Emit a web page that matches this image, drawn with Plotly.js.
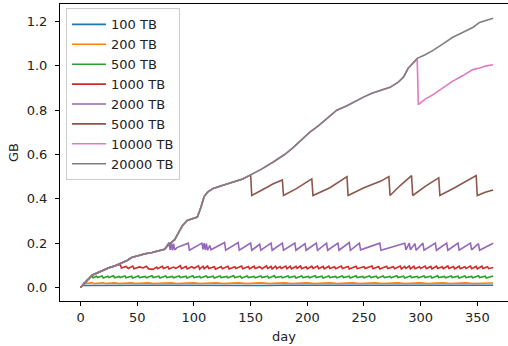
<!DOCTYPE html>
<html>
<head>
<meta charset="utf-8">
<script src="https://cdn.plot.ly/plotly-3.0.1.min.js"></script>
<style>html,body{margin:0;padding:0;background:#fff;}#chart{width:508px;height:346px;}</style>
</head>
<body>
<div id="chart"></div>
<script>
// ---- data ----
const seriesNames = ["100 TB","200 TB","500 TB","1000 TB","2000 TB","5000 TB","10000 TB","20000 TB"];
const seriesColors = ["#1f77b4","#ff7f0e","#2ca02c","#d62728","#9467bd","#8c564b","#e377c2","#7f7f7f"];

const xTicks = [0,50,100,150,200,250,300,350];
const yTicks = [0.0,0.2,0.4,0.6,0.8,1.0,1.2];

// 100 TB
const days100 = [0,2,3,20,40,60,80,100,120,140,160,180,200,220,240,260,280,300,320,340,364];
const gb100   = [0,0.010,0.009,0.010,0.009,0.010,0.010,0.009,0.010,0.010,0.009,0.010,0.010,0.009,0.010,0.010,0.009,0.010,0.010,0.009,0.010];

// 200 TB
const days200 = [0,3,4,10,12,20,22,30,34,45,48,60,64,80,84,100,105,120,125,140,146,160,166,180,186,200,206,220,226,240,246,260,266,280,286,300,306,320,326,340,346,364];
const gb200   = [0,0.021,0.018,0.021,0.018,0.021,0.018,0.021,0.018,0.021,0.018,0.021,0.018,0.021,0.018,0.021,0.018,0.021,0.018,0.021,0.018,0.021,0.018,0.021,0.018,0.021,0.018,0.021,0.018,0.021,0.018,0.021,0.018,0.021,0.018,0.021,0.018,0.021,0.018,0.021,0.018,0.020];

// 500 TB
const days500 = [0,5,10,11,14,15,19,20,24,25,29,30,34,35,39,40,45,46,51,52,57,58,63,64,69,70,75,76,81,82,87,88,93,94,99,100,105,106,111,112,117,118,123,124,129,130,135,136,141,142,147,148,153,154,159,160,165,166,171,172,177,178,183,184,189,190,195,196,201,202,207,208,213,214,219,220,225,226,231,232,237,238,243,244,249,250,255,256,261,262,267,268,273,274,279,280,285,286,291,292,297,298,303,304,309,310,315,316,321,322,327,328,333,334,339,340,345,346,351,352,357,358,364];
const gb500   = [0,0.030,0.052,0.044,0.051,0.045,0.052,0.043,0.051,0.045,0.053,0.044,0.050,0.045,0.052,0.044,0.051,0.043,0.052,0.045,0.050,0.044,0.053,0.045,0.051,0.043,0.052,0.045,0.050,0.044,0.052,0.045,0.051,0.043,0.053,0.045,0.050,0.044,0.052,0.045,0.051,0.043,0.052,0.045,0.050,0.044,0.053,0.045,0.051,0.043,0.052,0.045,0.050,0.044,0.052,0.045,0.051,0.043,0.053,0.045,0.050,0.044,0.052,0.045,0.051,0.043,0.052,0.045,0.050,0.044,0.053,0.045,0.051,0.043,0.052,0.045,0.050,0.044,0.052,0.045,0.051,0.043,0.053,0.045,0.050,0.044,0.052,0.045,0.051,0.043,0.052,0.045,0.050,0.044,0.053,0.045,0.051,0.043,0.052,0.045,0.050,0.044,0.052,0.045,0.051,0.043,0.053,0.045,0.050,0.044,0.052,0.045,0.051,0.043,0.052,0.045,0.050,0.044,0.053,0.045,0.051,0.043,0.052];

// 1000 TB
const days1000 = [0,5,10,13,20,25,30,35,36,40,42,46,47,52,55,58,60,64,67,68,72,73,77,78,82,84,88,89,93,94,98,100,104,105,108,109,112,113,118,119,124,125,130,131,136,137,142,143,148,149,153,154,158,160,164,165,168,169,172,173,176,177,181,182,185,186,190,191,194,195,199,200,204,205,209,210,214,215,219,220,224,225,230,231,236,237,243,244,250,251,257,258,263,264,270,271,276,277,282,283,286,287,290,291,294,295,299,300,304,305,309,310,314,315,319,320,324,325,329,330,334,335,339,340,344,345,349,350,354,355,359,360,364];
const gb1000   = [0,0.030,0.055,0.062,0.078,0.089,0.097,0.104,0.088,0.095,0.086,0.097,0.085,0.093,0.088,0.096,0.084,0.082,0.092,0.085,0.096,0.086,0.094,0.084,0.092,0.086,0.098,0.085,0.095,0.084,0.094,0.087,0.098,0.083,0.096,0.085,0.097,0.086,0.094,0.083,0.095,0.085,0.096,0.084,0.094,0.086,0.097,0.085,0.095,0.084,0.096,0.086,0.094,0.085,0.097,0.086,0.095,0.084,0.096,0.085,0.094,0.086,0.097,0.085,0.096,0.084,0.095,0.086,0.097,0.085,0.094,0.084,0.096,0.086,0.097,0.085,0.095,0.084,0.096,0.086,0.094,0.085,0.097,0.086,0.095,0.084,0.096,0.085,0.094,0.086,0.097,0.085,0.095,0.084,0.096,0.086,0.094,0.085,0.097,0.084,0.095,0.086,0.097,0.084,0.096,0.085,0.094,0.086,0.097,0.085,0.095,0.084,0.096,0.086,0.094,0.085,0.097,0.086,0.095,0.084,0.096,0.085,0.094,0.086,0.097,0.085,0.095,0.084,0.096,0.086,0.094,0.085,0.090];

// 2000 TB
const days2000 = [0,5,10,13,20,25,30,37,41,45,51,57,63,68,74,78,79,80,81,82,83,85,95,96,107,108,109,110,111,112,114,115,127,128,139,140,150,151,158,159,168,169,178,179,189,190,198,199,208,209,217,218,227,228,237,238,246,247,264,265,286,287,290,291,295,296,302,303,313,314,323,324,333,334,344,345,351,352,360,364];
const gb2000   = [0,0.030,0.055,0.062,0.078,0.089,0.097,0.111,0.122,0.135,0.145,0.152,0.158,0.165,0.172,0.203,0.170,0.200,0.168,0.198,0.170,0.180,0.200,0.168,0.200,0.172,0.200,0.170,0.198,0.168,0.190,0.170,0.203,0.168,0.203,0.168,0.200,0.168,0.195,0.168,0.200,0.168,0.200,0.168,0.200,0.168,0.198,0.168,0.200,0.168,0.200,0.168,0.200,0.168,0.203,0.168,0.200,0.170,0.200,0.168,0.200,0.170,0.200,0.170,0.198,0.168,0.200,0.168,0.200,0.168,0.200,0.168,0.200,0.168,0.200,0.170,0.198,0.168,0.190,0.200];

// 5000 TB
const days5000 = [0,5,10,13,20,25,30,37,41,45,51,57,63,68,74,78,83,88,90,94,98,103,106,109,112,117,125,135,143,150,151,160,170,178,179,190,204,205,220,235,236,250,265,272,273,282,292,293,305,316,317,330,349,350,357,364];
const gb5000   = [0,0.030,0.055,0.062,0.078,0.089,0.097,0.111,0.122,0.135,0.145,0.152,0.158,0.165,0.172,0.195,0.216,0.262,0.280,0.302,0.310,0.318,0.360,0.410,0.430,0.447,0.460,0.476,0.490,0.508,0.415,0.440,0.468,0.485,0.415,0.445,0.490,0.415,0.450,0.500,0.415,0.450,0.480,0.500,0.415,0.460,0.505,0.415,0.460,0.495,0.415,0.450,0.505,0.415,0.430,0.440];

// 10000 TB
const days10000 = [0,5,10,13,20,25,30,37,41,45,51,57,63,68,74,78,83,88,90,94,98,103,106,109,112,117,125,135,143,150,160,170,180,187,195,202,210,218,226,235,244,250,257,265,273,280,285,289,293,297,298,304,311,320,328,337,346,352,358,364];
const gb10000   = [0,0.030,0.055,0.062,0.078,0.089,0.097,0.111,0.122,0.135,0.145,0.152,0.158,0.165,0.172,0.195,0.216,0.262,0.280,0.302,0.310,0.318,0.360,0.410,0.430,0.447,0.460,0.476,0.490,0.508,0.535,0.566,0.600,0.629,0.665,0.700,0.730,0.765,0.800,0.820,0.845,0.860,0.876,0.890,0.903,0.925,0.950,0.989,1.010,1.030,0.825,0.850,0.870,0.900,0.930,0.955,0.983,0.990,1.000,1.005];

// 20000 TB
const days20000 = [0,5,10,13,20,25,30,37,41,45,51,57,63,68,74,78,83,88,90,94,98,103,106,109,112,117,125,135,143,150,160,170,180,187,195,202,210,218,226,235,244,250,257,265,273,280,285,289,293,297,304,311,320,328,337,346,352,358,364];
const gb20000   = [0,0.030,0.055,0.062,0.078,0.089,0.097,0.111,0.122,0.135,0.145,0.152,0.158,0.165,0.172,0.195,0.216,0.262,0.280,0.302,0.310,0.318,0.360,0.410,0.430,0.447,0.460,0.476,0.490,0.508,0.535,0.566,0.600,0.629,0.665,0.700,0.730,0.765,0.800,0.820,0.845,0.860,0.876,0.890,0.903,0.925,0.950,0.989,1.010,1.034,1.050,1.070,1.100,1.128,1.150,1.173,1.196,1.207,1.215];

const allDays = [days100,days200,days500,days1000,days2000,days5000,days10000,days20000];
const allGB   = [gb100,gb200,gb500,gb1000,gb2000,gb5000,gb10000,gb20000];

// ---- build traces ----
const traces = seriesNames.map((name,i)=>({
  type:'scatter', mode:'lines', name:name,
  x: allDays[i], y: allGB[i],
  line:{color:seriesColors[i], width:1.6}
}));

const font = {family:'"DejaVu Sans", sans-serif', size:13, color:'#222'};

const layout = {
  width:508, height:346,
  margin:{l:60, r:0, t:4, b:45, pad:0},
  paper_bgcolor:'#fff', plot_bgcolor:'#fff',
  font: font,
  showlegend:true,
  legend:{
    x:0.0134, y:0.985, xanchor:'left', yanchor:'top',
    bgcolor:'rgba(255,255,255,0.8)', bordercolor:'#cccccc', borderwidth:1,
    font:font, traceorder:'normal', itemwidth:34
  },
  xaxis:{
    range:[-18.2, 377.1], tickvals:xTicks, ticktext:xTicks.map(String),
    showgrid:false, zeroline:false,
    showline:true, linecolor:'#000', linewidth:1, mirror:true,
    ticks:'outside', ticklen:4, tickwidth:1, tickcolor:'#000',
    tickfont:font,
    title:{text:'day', font:font, standoff:8}
  },
  yaxis:{
    range:[-0.0609, 1.279], tickvals:yTicks, ticktext:yTicks.map(v=>v.toFixed(1)),
    showgrid:false, zeroline:false,
    showline:true, linecolor:'#000', linewidth:1, mirror:false,
    ticks:'outside', ticklen:4, tickwidth:1, tickcolor:'#000',
    tickfont:font, ticklabelstandoff:5,
    title:{text:'GB', font:font, standoff:5}
  }
};

Plotly.newPlot('chart', traces, layout, {staticPlot:true, displayModeBar:false});
</script>
</body>
</html>
